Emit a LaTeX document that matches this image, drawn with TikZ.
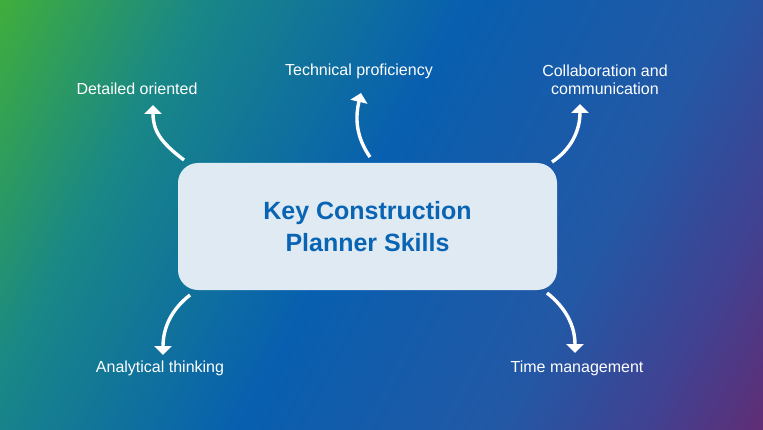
\documentclass[tikz,border=0pt]{standalone}
\usepackage{fontspec}
\setmainfont{Liberation Sans}
\usepackage{tikz}
\usetikzlibrary{arrows.meta}

\definecolor{bggreen}{RGB}{64,174,58}
\definecolor{bgteal}{RGB}{25,135,135}
\definecolor{bgblue}{RGB}{8,95,175}
\definecolor{bgindigo}{RGB}{35,88,165}
\definecolor{bgviolet}{RGB}{65,65,145}
\definecolor{bgpurple}{RGB}{105,40,110}
\definecolor{boxfill}{RGB}{224,234,243}
\definecolor{titleblue}{RGB}{10,100,180}

\pgfdeclarehorizontalshading{bgshade}{100bp}{color(0bp)=(bggreen); color(16bp)=(bggreen); color(30bp)=(bgteal); color(48bp)=(bgblue); color(66bp)=(bgindigo); color(76bp)=(bgviolet); color(86bp)=(bgpurple); color(100bp)=(bgpurple)}

\begin{document}
\begin{tikzpicture}[x=1pt, y=1pt,
    skill/.style={text=white, font=\fontsize{16}{18}\selectfont, align=center},
    curvy/.style={draw=white, line width=3.4pt, -{Triangle[width=17pt,length=9pt]}}]
    % background
    \useasboundingbox (0,0) rectangle (763,429);
    \shade [shading=bgshade, shading angle=-28] (0,0) rectangle (763,429);

    % centre box
    \node [fill=boxfill, rounded corners=20pt, minimum width=379pt,
    minimum height=127pt, text=titleblue, align=center,
    font=\bfseries\fontsize{25}{31.5}\selectfont] (box) at (367.5,202.5)
    {Key Construction\\Planner Skills};

    % skills
    \node [skill] (detail) at (137,340) {Detailed oriented};
    \node [skill] (tech) at (359,358) {Technical proficiency};
    \node [skill] (collab) at (605,349) {Collaboration and\\communication};
    \node [skill] (analyt) at (160,61) {Analytical thinking};
    \node [skill] (time) at (577,61) {Time management};

    % arrow ends
    \coordinate (s1) at (184,269);
    \coordinate (t1) at (153,324);
    \coordinate (s2) at (370,272);
    \coordinate (t2) at (361,336);
    \coordinate (s3) at (552,267);
    \coordinate (t3) at (580,325);
    \coordinate (s4) at (190,134);
    \coordinate (t4) at (163,74);
    \coordinate (s5) at (547,136);
    \coordinate (t5) at (575,76);

    \draw [curvy] (s1) .. controls +(-24,18) and +(0,-25) .. (t1);
    \draw [curvy] (s2) .. controls +(-14,20) and +(-6,-25) .. (t2);
    \draw [curvy] (s3) .. controls +(18,12) and +(0,-28) .. (t3);
    \draw [curvy] (s4) .. controls +(-18,-14) and +(0,28) .. (t4);
    \draw [curvy] (s5) .. controls +(18,-14) and +(0,28) .. (t5);
\end{tikzpicture}
\end{document}
